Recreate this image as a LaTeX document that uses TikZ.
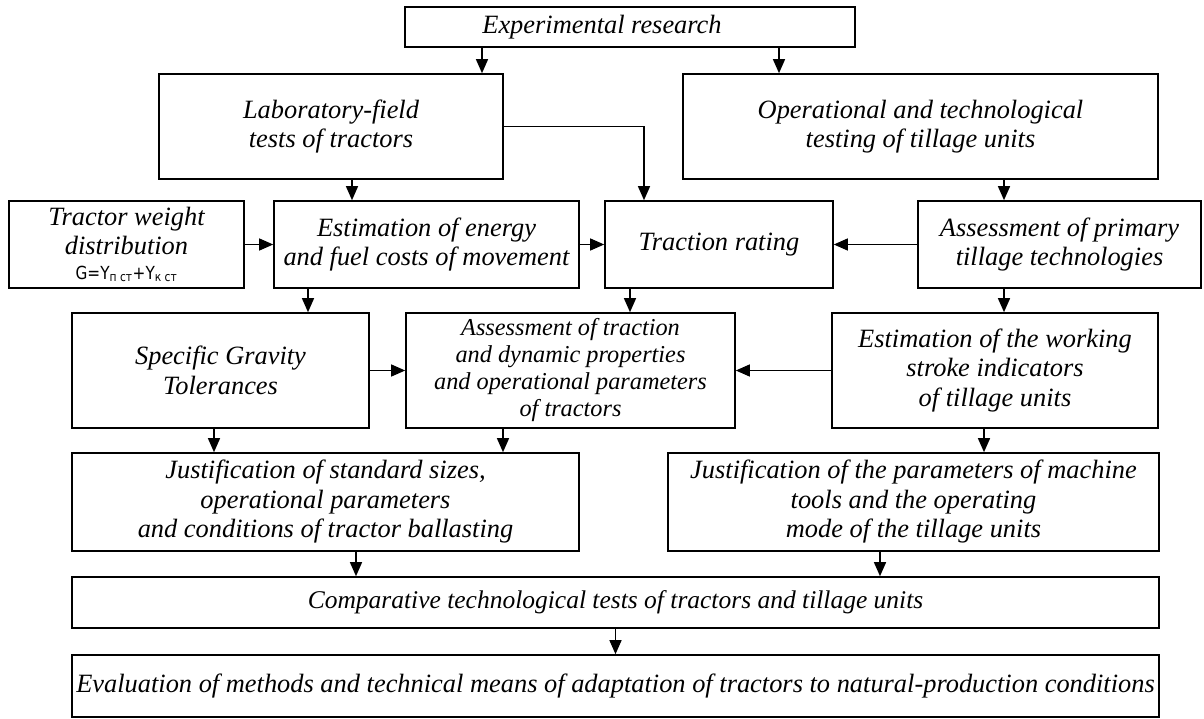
\documentclass[tikz,border=0pt]{standalone}
\usepackage{fontspec}
\setmainfont{Liberation Serif}
\newfontfamily\gostfont[FakeStretch=0.85]{DejaVu Sans}
\usetikzlibrary{arrows.meta}

\tikzset{
  block/.style = {draw, line width = 1.6pt, inner sep = 0pt, align = center,
    font = \itshape\fontsize{26.4}{29.5}\selectfont},
  flow/.style = {line width = 1.3pt, -{Triangle[length = 14pt, width = 12pt]}}
}

\begin{document}
\begin{tikzpicture}[x = 1pt, y = -1pt]
    \useasboundingbox (0, 0) rectangle (1204, 719);

    % top row
    \node [block, minimum width = 450pt, minimum height = 40pt] (exp) at (630, 27)
    {\makebox[0pt]{Experimental research\hspace*{56pt}}};
    \node [block, minimum width = 344pt, minimum height = 105pt] (lab) at (331, 126.5)
    {Laboratory-field\\tests of tractors};
    \node [block, minimum width = 475pt, minimum height = 105pt] (oper) at (920.5, 126.5)
    {Operational and technological\\testing of tillage units};

    % second row
    \node [block, minimum width = 235pt, minimum height = 87pt] (weight) at (126.5, 244.5)
    {Tractor weight\\distribution\\[-5pt]{\upshape\gostfont\fontsize{18}{19}\selectfont G=Y\textsubscript{п ст}+Y\textsubscript{к ст}}};
    \node [block, minimum width = 305pt, minimum height = 87pt] (energy) at (426.5, 244.5)
    {Estimation of energy\\and fuel costs of movement};
    \node [block, minimum width = 228pt, minimum height = 87pt] (rating) at (719, 244.5)
    {Traction rating};
    \node [block, minimum width = 283pt, minimum height = 87pt] (primary) at (1059.5, 244.5)
    {Assessment of primary\\tillage technologies};

    % third row
    \node [block, minimum width = 297pt, minimum height = 115pt] (gravity) at (220.5, 370.5)
    {Specific Gravity\\Tolerances};
    \node [block, minimum width = 329pt, minimum height = 115pt,
      font = \itshape\fontsize{24.3}{27}\selectfont] (traction) at (570.5, 370.5)
    {Assessment of traction\\and dynamic properties\\and operational parameters\\of tractors};
    \node [block, minimum width = 326pt, minimum height = 115pt] (stroke) at (995, 370.5)
    {Estimation of the working\\stroke indicators\\of tillage units};

    % fourth row
    \node [block, minimum width = 507pt, minimum height = 98pt] (justT) at (325.5, 502)
    {Justification of standard sizes,\\operational parameters\\and conditions of tractor ballasting};
    \node [block, minimum width = 491pt, minimum height = 98pt] (justU) at (913.5, 502)
    {Justification of the parameters of machine\\tools and the operating\\mode of the tillage units};

    % bottom
    \node [block, minimum width = 1087pt, minimum height = 51pt,
      font = \itshape\fontsize{25.5}{29}\selectfont] (compare) at (615.5, 602.5)
    {Comparative technological tests of tractors and tillage units};
    \node [block, minimum width = 1087pt, minimum height = 62pt] (evaluate) at (615.5, 686)
    {Evaluation of methods and technical means of adaptation of tractors to natural-production conditions};

    % columns of the vertical arrows
    \coordinate (c1) at (482, 0);
    \coordinate (c2) at (779, 0);
    \coordinate (c3) at (352, 0);
    \coordinate (c4) at (644, 0);
    \coordinate (c5) at (1004, 0);
    \coordinate (c6) at (308, 0);
    \coordinate (c7) at (630, 0);
    \coordinate (c8) at (214, 0);
    \coordinate (c9) at (503, 0);
    \coordinate (c10) at (984, 0);
    \coordinate (c11) at (356, 0);
    \coordinate (c12) at (880, 0);
    \coordinate (c13) at (615.5, 0);

    \draw [flow] (exp.south -| c1) -- (lab.north -| c1);
    \draw [flow] (exp.south -| c2) -- (oper.north -| c2);
    \draw [flow] (lab.south -| c3) -- (energy.north -| c3);
    \draw [flow] (lab.east) -| (rating.north -| c4);
    \draw [flow] (oper.south -| c5) -- (primary.north -| c5);

    \draw [flow] (weight.east) -- (energy.west);
    \draw [flow] (energy.east) -- (rating.west);
    \draw [flow] (primary.west) -- (rating.east);

    \draw [flow] (energy.south -| c6) -- (gravity.north -| c6);
    \draw [flow] (rating.south -| c7) -- (traction.north -| c7);
    \draw [flow] (primary.south -| c5) -- (stroke.north -| c5);
    \draw [flow] (gravity.east) -- (traction.west);
    \draw [flow] (stroke.west) -- (traction.east);

    \draw [flow] (gravity.south -| c8) -- (justT.north -| c8);
    \draw [flow] (traction.south -| c9) -- (justT.north -| c9);
    \draw [flow] (stroke.south -| c10) -- (justU.north -| c10);
    \draw [flow] (justT.south -| c11) -- (compare.north -| c11);
    \draw [flow] (justU.south -| c12) -- (compare.north -| c12);
    \draw [flow] (compare.south -| c13) -- (evaluate.north -| c13);
\end{tikzpicture}
\end{document}
